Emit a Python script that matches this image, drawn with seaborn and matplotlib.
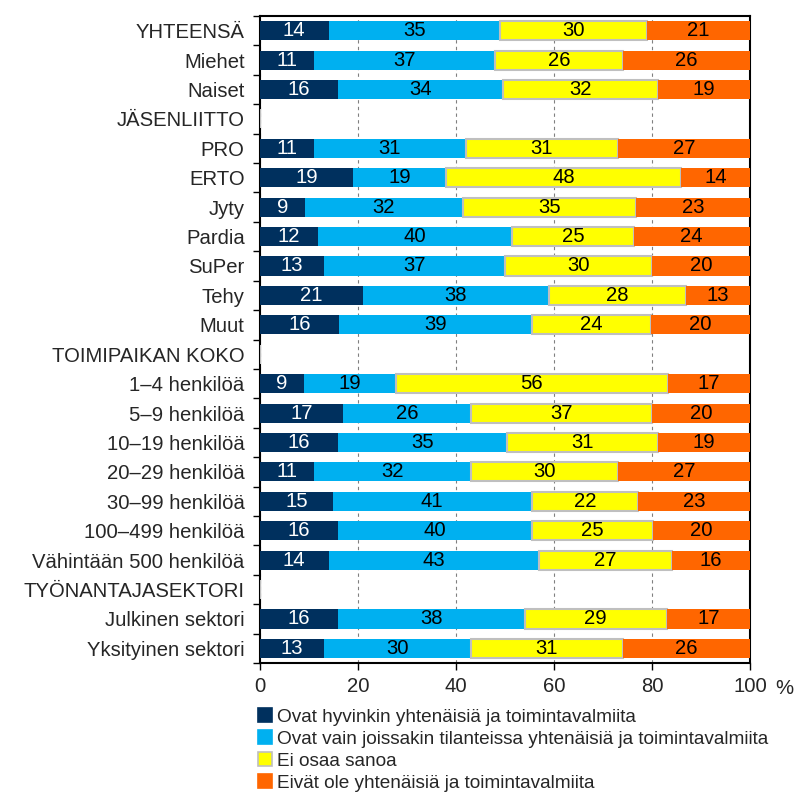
import numpy as np
import pandas as pd
import matplotlib
matplotlib.use("Agg")
import matplotlib.pyplot as plt
from matplotlib.patches import Patch
import seaborn as sns

categories = ["YHTEENSÄ", "Miehet", "Naiset", "JÄSENLIITTO", "PRO", "ERTO", "Jyty",
              "Pardia", "SuPer", "Tehy", "Muut", "TOIMIPAIKAN KOKO", "1–4 henkilöä",
              "5–9 henkilöä", "10–19 henkilöä", "20–29 henkilöä", "30–99 henkilöä",
              "100–499 henkilöä", "Vähintään 500 henkilöä", "TYÖNANTAJASEKTORI",
              "Julkinen sektori", "Yksityinen sektori"]
series_names = ["Ovat hyvinkin yhtenäisiä ja toimintavalmiita",
                "Ovat vain joissakin tilanteissa yhtenäisiä ja toimintavalmiita",
                "Ei osaa sanoa",
                "Eivät ole yhtenäisiä ja toimintavalmiita"]
s1 = [14, 11, 16, None, 11, 19, 9, 12, 13, 21, 16, None, 9, 17, 16, 11, 15, 16, 14, None, 16, 13]
s2 = [35, 37, 34, None, 31, 19, 32, 40, 37, 38, 39, None, 19, 26, 35, 32, 41, 40, 43, None, 38, 30]
s3 = [30, 26, 32, None, 31, 48, 35, 25, 30, 28, 24, None, 56, 37, 31, 30, 22, 25, 27, None, 29, 31]
s4 = [21, 26, 19, None, 27, 14, 23, 24, 20, 13, 20, None, 17, 20, 19, 27, 23, 20, 16, None, 17, 26]
x_ticks = [0, 20, 40, 60, 80, 100]

colors = ["#00305E", "#00B0F0", "#FFFF00", "#FF6600"]
edgecolors = ["none", "none", "#BFBFBF", "none"]
text_colors = ["white", "black", "black", "black"]

sns.set_theme(style="white")
plt.rcParams["font.family"] = ["Liberation Sans", "DejaVu Sans"]

FS = 14.6

vals = np.array([[np.nan if v is None else v for v in s] for s in (s1, s2, s3, s4)], dtype=float)
totals = np.nansum(vals, axis=0)
totals[totals == 0] = 1
shares = vals / totals * 100

fig = plt.figure(figsize=(8.11, 7.97), dpi=100)
ax = fig.add_axes([0.3206, 0.168, 0.6042, 0.812])

left = np.zeros(len(categories))
for i in range(4):
    df = pd.DataFrame({"cat": categories, "w": np.nan_to_num(shares[i]), "left": left})
    ax.barh(df["cat"], df["w"], left=df["left"], height=0.65, color=colors[i],
            edgecolor=edgecolors[i], linewidth=1.5 if i == 2 else 0, zorder=3)
    for j, v in enumerate(vals[i]):
        if not np.isnan(v):
            ax.text(left[j] + shares[i][j] / 2, j, f"{int(v)}", ha="center", va="center",
                    color=text_colors[i], fontsize=FS, zorder=4)
    left = left + np.nan_to_num(shares[i])

ax.set_xlim(0, 100)
ax.set_ylim(len(categories) - 0.5, -0.5)
ax.set_xticks(x_ticks)
ax.set_xticklabels([str(t) for t in x_ticks], fontsize=FS)
ax.set_yticks(range(len(categories)))
ax.set_yticklabels(categories, fontsize=FS)
ax.set_yticks(np.arange(-0.5, len(categories), 1), minor=True)
ax.tick_params(axis="y", which="major", length=0, pad=11)
ax.tick_params(axis="y", which="minor", length=5, width=1, color="black", direction="out", left=True)
ax.tick_params(axis="x", which="major", length=5, width=1, color="black", direction="out", bottom=True, pad=5)
ax.xaxis.grid(True, linestyle=(0, (3, 3)), color="#808080", linewidth=0.8, zorder=0)
ax.yaxis.grid(False)
for sp in ax.spines.values():
    sp.set_visible(True)
    sp.set_color("black")
    sp.set_linewidth(1.5)
ax.set_xlabel("")
ax.set_ylabel("")
fig.text(784 / 811, 1 - 688 / 797, "%", ha="center", va="center", fontsize=FS)

handles = [Patch(facecolor=colors[i], edgecolor=("#BFBFBF" if i == 2 else colors[i]), linewidth=1.2)
           for i in range(4)]
fig.legend(handles, series_names, loc="upper left", bbox_to_anchor=(258 / 811, 1 - 708 / 797),
           frameon=False, fontsize=13.7, handlelength=0.75, handleheight=0.75, handletextpad=0.25,
           labelspacing=0.23, borderaxespad=0, borderpad=0)

fig.savefig("out.png", dpi=100)
